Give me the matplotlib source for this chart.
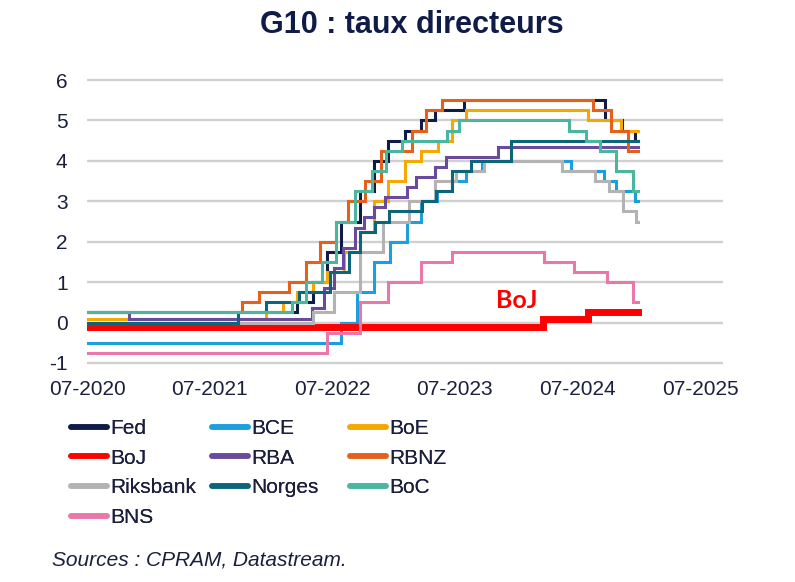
import matplotlib
matplotlib.use('Agg')
import matplotlib.pyplot as plt
import matplotlib.dates as mdates
from matplotlib.lines import Line2D
import numpy as np

# policy rates, date of change -> new level (%)
END = '2024-12-27'

fed_dates = ['2020-07-01', '2022-03-17', '2022-05-05', '2022-06-16', '2022-07-28', '2022-09-22',
             '2022-11-03', '2022-12-15', '2023-02-02', '2023-03-23', '2023-05-04', '2023-07-27',
             '2024-09-19', '2024-11-08', '2024-12-19']
fed_rates = [0.25, 0.5, 1.0, 1.75, 2.5, 3.25, 4.0, 4.5, 4.75, 5.0, 5.25, 5.5, 5.0, 4.75, 4.5]

bce_dates = ['2020-07-01', '2022-07-27', '2022-09-14', '2022-11-02', '2022-12-21', '2023-02-08',
             '2023-03-22', '2023-05-10', '2023-06-21', '2023-08-02', '2023-09-20', '2024-06-12',
             '2024-09-18', '2024-10-23', '2024-12-18']
bce_rates = [-0.5, 0.0, 0.75, 1.5, 2.0, 2.5, 3.0, 3.25, 3.5, 3.75, 4.0, 3.75, 3.5, 3.25, 3.0]

boe_dates = ['2020-07-01', '2021-12-16', '2022-02-03', '2022-03-17', '2022-05-05', '2022-06-16',
             '2022-08-04', '2022-09-22', '2022-11-03', '2022-12-15', '2023-02-02', '2023-03-23',
             '2023-05-11', '2023-06-22', '2023-08-03', '2024-08-01', '2024-11-07']
boe_rates = [0.1, 0.25, 0.5, 0.75, 1.0, 1.25, 1.75, 2.25, 3.0, 3.5, 4.0, 4.25, 4.5, 5.0, 5.25, 5.0, 4.75]

boj_dates = ['2020-07-01', '2024-03-19', '2024-07-31']
boj_rates = [-0.1, 0.1, 0.25]

rba_dates = ['2020-07-01', '2020-11-03', '2022-05-03', '2022-06-07', '2022-07-05', '2022-08-02',
             '2022-09-06', '2022-10-04', '2022-11-01', '2022-12-06', '2023-02-07', '2023-03-07',
             '2023-05-02', '2023-06-06', '2023-11-07']
rba_rates = [0.25, 0.1, 0.35, 0.85, 1.35, 1.85, 2.35, 2.6, 2.85, 3.1, 3.35, 3.6, 3.85, 4.1, 4.35]

rbnz_dates = ['2020-07-01', '2021-10-06', '2021-11-24', '2022-02-23', '2022-04-13', '2022-05-25',
              '2022-07-13', '2022-08-17', '2022-10-05', '2022-11-23', '2023-02-22', '2023-04-05',
              '2023-05-24', '2024-08-14', '2024-10-09', '2024-11-27']
rbnz_rates = [0.25, 0.5, 0.75, 1.0, 1.5, 2.0, 2.5, 3.0, 3.5, 4.25, 4.75, 5.25, 5.5, 5.25, 4.75, 4.25]

riks_dates = ['2020-07-01', '2022-05-04', '2022-07-06', '2022-09-21', '2022-11-30', '2023-02-15',
              '2023-05-03', '2023-07-05', '2023-09-27', '2024-05-15', '2024-08-21', '2024-10-02',
              '2024-11-13', '2024-12-20']
riks_rates = [0.0, 0.25, 0.75, 1.75, 2.5, 3.0, 3.5, 3.75, 4.0, 3.75, 3.5, 3.25, 2.75, 2.5]

norges_dates = ['2020-07-01', '2021-09-24', '2021-12-17', '2022-03-25', '2022-06-24', '2022-08-19',
                '2022-09-23', '2022-11-04', '2022-12-16', '2023-03-24', '2023-05-05', '2023-06-23',
                '2023-08-18', '2023-12-15']
norges_rates = [0.0, 0.25, 0.5, 0.75, 1.25, 1.75, 2.25, 2.5, 2.75, 3.0, 3.25, 3.75, 4.0, 4.5]

boc_dates = ['2020-07-01', '2022-03-02', '2022-04-13', '2022-06-01', '2022-07-13', '2022-09-07',
             '2022-10-26', '2022-12-07', '2023-01-25', '2023-06-07', '2023-07-12', '2024-06-05',
             '2024-07-24', '2024-09-04', '2024-10-23', '2024-12-11']
boc_rates = [0.25, 0.5, 1.0, 1.5, 2.5, 3.25, 3.75, 4.25, 4.5, 4.75, 5.0, 4.75, 4.5, 4.25, 3.75, 3.25]

bns_dates = ['2020-07-01', '2022-06-16', '2022-09-22', '2022-12-15', '2023-03-23', '2023-06-22',
             '2024-03-21', '2024-06-20', '2024-09-26', '2024-12-12']
bns_rates = [-0.75, -0.25, 0.5, 1.0, 1.5, 1.75, 1.5, 1.25, 1.0, 0.5]

series = [
    ('Fed', fed_dates, fed_rates, '#0f1c48'),
    ('BCE', bce_dates, bce_rates, '#1c9fdf'),
    ('BoE', boe_dates, boe_rates, '#f5a800'),
    ('BoJ', boj_dates, boj_rates, '#ff0000'),
    ('RBA', rba_dates, rba_rates, '#6a4b9b'),
    ('RBNZ', rbnz_dates, rbnz_rates, '#e3611b'),
    ('Riksbank', riks_dates, riks_rates, '#b3b3b3'),
    ('Norges', norges_dates, norges_rates, '#0c6578'),
    ('BoC', boc_dates, boc_rates, '#4bb69e'),
    ('BNS', bns_dates, bns_rates, '#e977aa'),
]

TXT = '#1a1f3d'
plt.rcParams['font.family'] = ['Liberation Sans', 'DejaVu Sans']
plt.rcParams['axes.unicode_minus'] = False

fig = plt.figure(figsize=(7.95, 5.82), dpi=100)
ax = fig.add_axes([87 / 795, 1 - 365 / 582, 636 / 795, 287 / 582])

handles = {}
for name, d, r, col in series:
    x = np.array(d + [END], dtype='datetime64[D]')
    y = np.array(r + [r[-1]])
    lw = 5.0 if name == 'BoJ' else 2.2
    ax.plot(x, y, drawstyle='steps-post', color=col, lw=lw, solid_joinstyle='miter', zorder=3)
    handles[name] = Line2D([], [], color=col, lw=4.0, solid_capstyle='round')

ax.set_ylim(-1.05, 6.05)
ax.set_xlim(np.datetime64('2020-07-01'), np.datetime64('2025-09-06'))
ax.set_yticks(range(-1, 7))
ax.xaxis.set_major_locator(mdates.MonthLocator(bymonth=7))
ax.xaxis.set_major_formatter(mdates.DateFormatter('%m-%Y'))
for s in ax.spines.values():
    s.set_visible(False)
ax.grid(axis='y', color='#d0d0d0', lw=1.7, zorder=0)
ax.axhline(0, color='#c9d2ec', lw=1.5, zorder=1)
ax.tick_params(length=0, labelsize=15, labelcolor=TXT)
ax.tick_params(axis='y', pad=14)
ax.tick_params(axis='x', pad=11)

ax.text(np.datetime64('2024-01-01'), 0.55, 'BoJ', color='#ff0000', fontsize=18,
        fontweight='bold', family=['Lato', 'DejaVu Sans'], ha='center', va='center')

fig.text(0.518, 0.943, 'G10 : taux directeurs', ha='center', va='baseline',
         fontsize=22, fontweight='bold', color='#0f1c48')
fig.text(52 / 795, 0.029, 'Sources : CPRAM, Datastream.', ha='left', va='baseline',
         fontsize=15, style='italic', color=TXT)

# legend, three columns laid out row by row
columns = [['Fed', 'BoJ', 'Riksbank', 'BNS'], ['BCE', 'RBA', 'Norges'], ['BoE', 'RBNZ', 'BoC']]
col_x = [71, 212, 350]
for names, cx in zip(columns, col_x):
    leg = fig.legend([handles[n] for n in names], names, loc='upper left',
                     bbox_to_anchor=(cx / 795, 1 - 419 / 582), frameon=False, fontsize=15,
                     labelcolor=TXT, handlelength=1.75, handletextpad=0.15, labelspacing=0.51,
                     borderpad=0, borderaxespad=0)
    fig.add_artist(leg)

fig.savefig('out.png', dpi=100)
